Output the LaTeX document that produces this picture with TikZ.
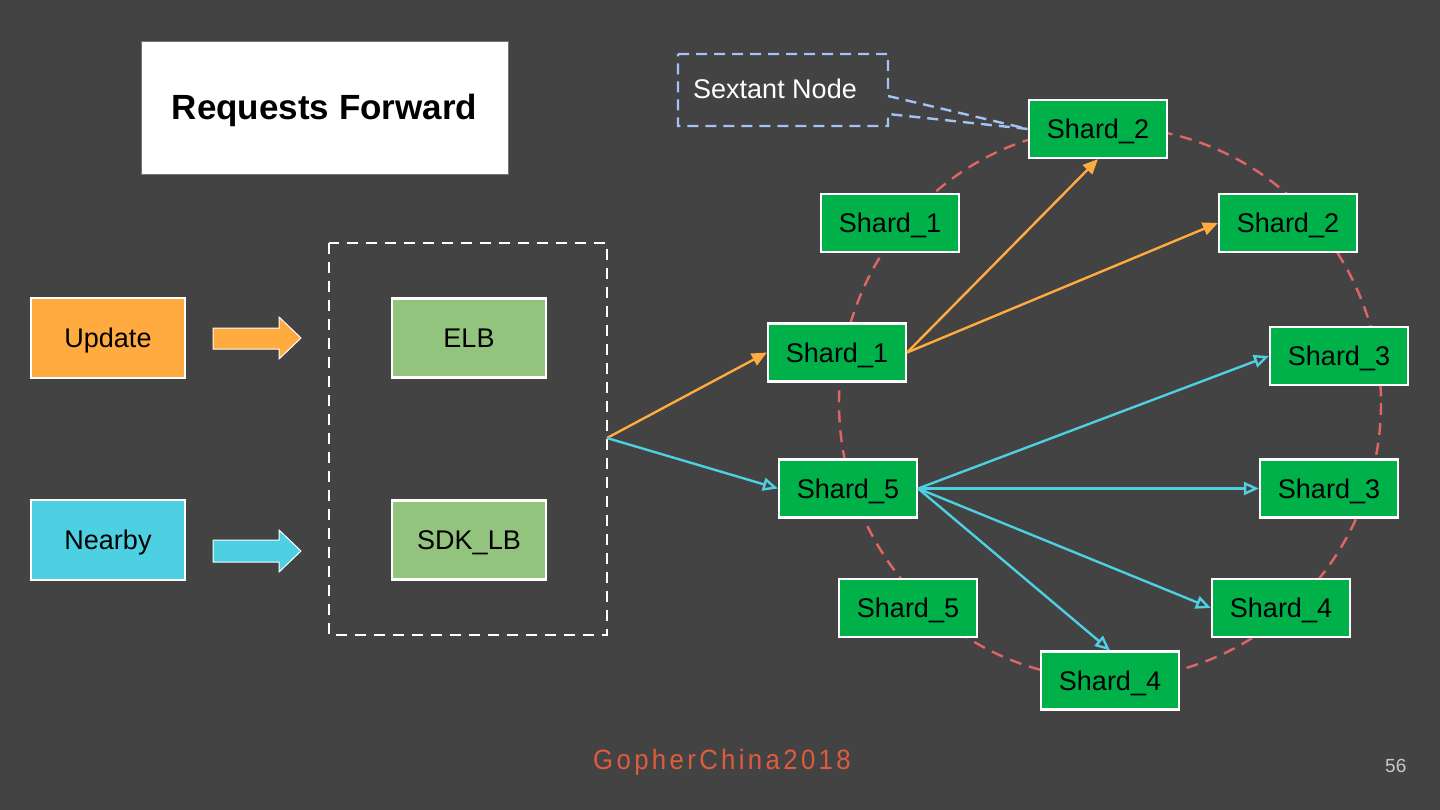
\documentclass[tikz,border=0pt]{standalone}
\usepackage{fontspec}
\setmainfont{Liberation Sans}
\newfontfamily\footfont[FakeStretch=0.92,LetterSpace=12]{Liberation Sans}
\usetikzlibrary{arrows.meta}
\definecolor{bg}{HTML}{434343}
\definecolor{shardgreen}{RGB}{0,176,72}
\definecolor{lbgreen}{HTML}{93C47D}
\definecolor{upd}{HTML}{FFAB40}
\definecolor{nby}{HTML}{4DD0E1}
\definecolor{ringred}{HTML}{E06666}
\definecolor{sexblue}{HTML}{A4C2F4}
\definecolor{foot}{RGB}{222,92,60}
\definecolor{pnum}{HTML}{C8C8C8}
\tikzset{
  txt/.style={font=\fontsize{27}{30}\selectfont, text height=19.5pt, text depth=0pt, inner sep=0pt},
  box/.style={txt, draw=white, line width=2.2pt, text=black},
  shard/.style={box, fill=shardgreen, minimum width=138pt, minimum height=58pt},
  srcbox/.style={box, minimum width=154pt, minimum height=80pt},
  lbbox/.style={box, fill=lbgreen, minimum width=154pt, minimum height=79pt},
  upline/.style={draw=upd, line width=2.4pt, -{Triangle[length=15pt,width=13pt]}},
  nbline/.style={draw=nby, line width=2.4pt, -{Triangle[open,length=15pt,width=13pt]}},
  blockarrow/.style={draw=white, line width=1pt, line join=miter},
}
\begin{document}
\begin{tikzpicture}[x=1pt,y=-1pt]
\fill[bg] (0,0) rectangle (1440,810);
\useasboundingbox (0,0) rectangle (1440,810);

% title
\node[draw=black!55, line width=0.8pt, fill=white, minimum width=367pt, minimum height=133pt, inner sep=0pt,
  font=\fontsize{35}{40}\bfseries\selectfont, text height=25pt, text depth=0pt] (title) at (324.5,107.5) {Requests Forward};

% sources
\node[srcbox, fill=upd] (update) at (108,338) {Update};
\node[srcbox, fill=nby] (nearby) at (108,540) {Nearby};

% block arrows
\path[blockarrow, fill=upd] (213,328) -- (279,328) -- (279,317) -- (301,338) -- (279,359) -- (279,349) -- (213,349) -- cycle;
\path[blockarrow, fill=nby] (213,540) -- (279,540) -- (279,530) -- (301,551) -- (279,572) -- (279,562) -- (213,562) -- cycle;

% load balancer group
\draw[white, line width=2.4pt, dash pattern=on 11pt off 8pt] (329,243) rectangle (607,635);
\node[lbbox] (elb) at (469,338) {ELB};
\node[lbbox] (sdk) at (469,540) {SDK\_LB};
\coordinate (fan) at (607,438);

% ring
\draw[ringred, line width=2.4pt, dash pattern=on 12pt off 8pt] (1110,403) ellipse [x radius=271, y radius=276];

% shards
\node[shard] (s2top) at (1098,129) {Shard\_2};
\node[shard] (s1up) at (890,223) {Shard\_1};
\node[shard] (s2r) at (1288,223) {Shard\_2};
\node[shard] (s1m) at (837,352.5) {Shard\_1};
\node[shard] (s3u) at (1339,356) {Shard\_3};
\node[shard] (s5m) at (848,488.5) {Shard\_5};
\node[shard] (s3l) at (1329,488.5) {Shard\_3};
\node[shard] (s5low) at (908,608) {Shard\_5};
\node[shard] (s4r) at (1281,608) {Shard\_4};
\node[shard] (s4b) at (1110,680.5) {Shard\_4};

% sextant callout
\node[txt, text=white, anchor=base west] (sext) at (693,99) {Sextant Node};
\draw[sexblue, line width=2.4pt, dash pattern=on 11pt off 7pt, line join=miter]
  (678,54) -- (888,54) -- (888,96) -- (s2top.west) -- (888,114) -- (888,126) -- (678,126) -- cycle;

% connectors
\draw[upline] (fan) -- (s1m.west);
\draw[nbline] (fan) -- (s5m.west);
\draw[upline] (s1m.east) -- (s2top.south);
\draw[upline] (s1m.east) -- (s2r.west);
\draw[nbline] (s5m.east) -- (s3u.west);
\draw[nbline] (s5m.east) -- (s3l.west);
\draw[nbline] (s5m.east) -- (s4r.west);
\draw[nbline] (s5m.east) -- (s4b.north);

% footer
\node[inner sep=0pt, anchor=base west, text=foot, font=\footfont\fontsize{28}{30}\selectfont] (gc) at (593,769) {GopherChina2018};
\node[inner sep=0pt, anchor=base west, text=pnum, font=\fontsize{19}{22}\selectfont] (pg) at (1385,772) {56};
\end{tikzpicture}
\end{document}
